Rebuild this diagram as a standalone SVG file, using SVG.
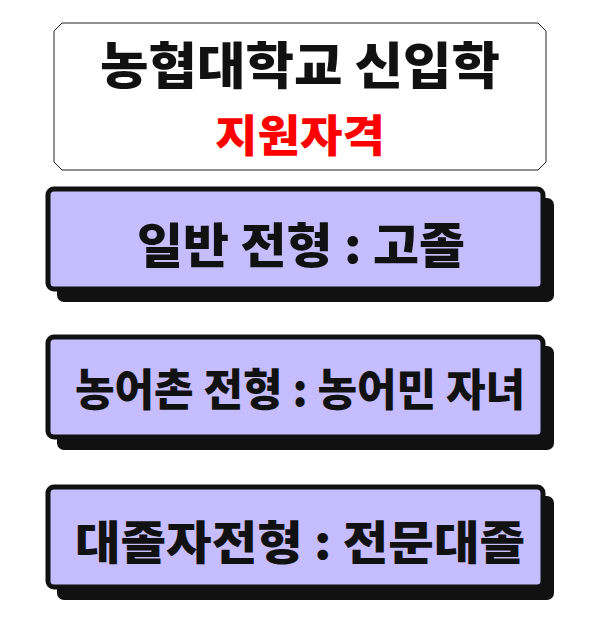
<svg xmlns="http://www.w3.org/2000/svg" width="600" height="618" viewBox="0 0 600 618">
<style>
.t{font-family:"Noto Sans CJK KR","Noto Sans",sans-serif;font-weight:900;text-anchor:middle}
.sh{fill:#111}
.bx{fill:#c6bdff;stroke:#111;stroke-width:5}
</style>
<rect width="600" height="618" fill="#fff"/>
<g id="title">
<path d="M62,23 H538 L546,31 V162 L538,170 H62 L54,162 V31 Z" fill="#fff" stroke="#222" stroke-width="1"/>
<text class="t" x="300" y="84" font-size="50" fill="#111" textLength="400" lengthAdjust="spacingAndGlyphs">농협대학교 신입학</text>
<text class="t" x="300" y="152" font-size="44" fill="#f00" textLength="170" lengthAdjust="spacingAndGlyphs">지원자격</text>
</g>
<g id="box1">
<rect class="sh" x="57" y="198" width="497" height="104" rx="7"/>
<rect class="bx" x="48" y="189" width="495" height="100" rx="6"/>
<text class="t" x="301" y="263" font-size="48" fill="#111" textLength="328" lengthAdjust="spacingAndGlyphs">일반 전형 : 고졸</text>
</g>
<g id="box2">
<rect class="sh" x="57" y="346" width="497" height="104" rx="7"/>
<rect class="bx" x="48" y="337" width="495" height="100" rx="6"/>
<text class="t" x="300" y="406" font-size="44" fill="#111" textLength="450" lengthAdjust="spacingAndGlyphs">농어촌 전형 : 농어민 자녀</text>
</g>
<g id="box3">
<rect class="sh" x="57" y="496" width="497" height="104" rx="7"/>
<rect class="bx" x="48" y="487" width="495" height="100" rx="6"/>
<text class="t" x="300" y="559" font-size="46" fill="#111" textLength="450" lengthAdjust="spacingAndGlyphs">대졸자전형 : 전문대졸</text>
</g>
<g id="connectors"/>
</svg>
